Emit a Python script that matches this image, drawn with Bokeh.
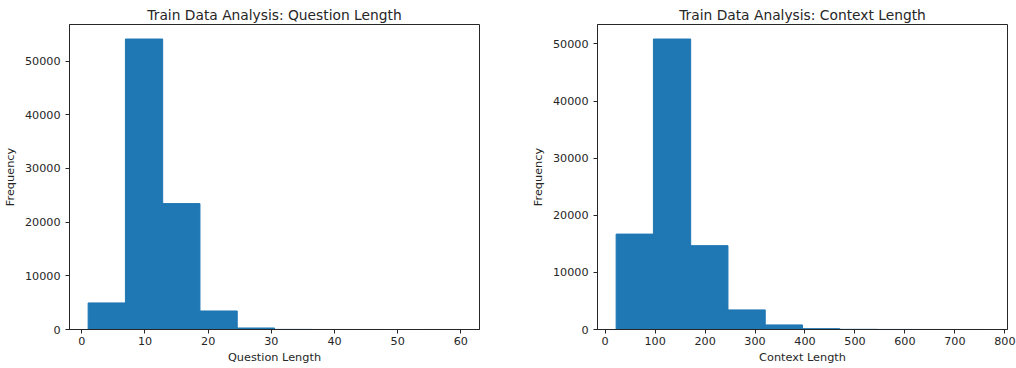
from bokeh.plotting import figure
from bokeh.layouts import row
from bokeh.models import Range1d, FixedTicker, NumeralTickFormatter
from bokeh.embed import file_html
from bokeh.resources import INLINE

# ---- data ----
q_edges = [1.0, 6.9, 12.8, 18.7, 24.6, 30.5, 36.4, 42.3, 48.2, 54.1, 60.0]
q_counts = [4950, 54100, 23450, 3450, 280, 20, 5, 2, 0, 1]

c_edges = [22.0, 96.6, 171.2, 245.8, 320.4, 395.0, 469.6, 544.2, 618.8, 693.4, 768.0]
c_counts = [16700, 50850, 14680, 3430, 800, 150, 30, 10, 3, 2]

q_xticks = [0, 10, 20, 30, 40, 50, 60]
c_xticks = [0, 100, 200, 300, 400, 500, 600, 700, 800]
y_ticks = [0, 10000, 20000, 30000, 40000, 50000]

BAR = "#1f77b4"
INK = "#262626"
FONT = "DejaVu Sans"


def hist_fig(title, xlabel, edges, counts, xticks, width, bl, br):
    lo, hi = edges[0], edges[-1]
    pad = 0.05 * (hi - lo)
    p = figure(
        width=width, height=368, output_backend="svg", toolbar_location=None,
        x_range=Range1d(lo - pad, hi + pad),
        y_range=Range1d(0, max(counts) * 1.05),
        title=title,
    )
    p.min_border_left = bl
    p.min_border_right = br
    p.min_border_top = 24
    p.min_border_bottom = 39
    p.quad(left=edges[:-1], right=edges[1:], bottom=0, top=counts,
           fill_color=BAR, line_color=BAR, line_width=1)
    p.grid.visible = False
    p.outline_line_color = INK
    p.outline_line_width = 1
    p.background_fill_color = "white"
    p.border_fill_color = "white"

    p.title.align = "center"
    p.title.text_font = FONT
    p.title.text_font_size = "13.8px"
    p.title.text_font_style = "normal"
    p.title.text_color = INK
    p.title.standoff = 4
    p.title.offset = 0

    p.xaxis.ticker = FixedTicker(ticks=xticks)
    p.yaxis.ticker = FixedTicker(ticks=y_ticks)
    p.yaxis.formatter = NumeralTickFormatter(format="0")
    p.xaxis.axis_label = xlabel
    p.yaxis.axis_label = "Frequency"
    for ax in (p.xaxis, p.yaxis):
        ax.axis_line_color = INK
        ax.major_tick_line_color = INK
        ax.minor_tick_line_color = None
        ax.major_tick_in = 0
        ax.major_tick_out = 4
        ax.major_label_text_font = FONT
        ax.major_label_text_font_size = "11.2px"
        ax.major_label_text_color = INK
        ax.axis_label_text_font = FONT
        ax.axis_label_text_font_size = "11.3px"
        ax.axis_label_text_font_style = "normal"
        ax.axis_label_text_color = INK
    p.xaxis.major_label_standoff = 3
    p.xaxis.axis_label_standoff = 3
    p.yaxis.major_label_standoff = 5
    p.yaxis.axis_label_standoff = 5
    return p


p1 = hist_fig("Train Data Analysis: Question Length", "Question Length",
              q_edges, q_counts, q_xticks, 508, 69, 29)
p2 = hist_fig("Train Data Analysis: Context Length", "Context Length",
              c_edges, c_counts, c_xticks, 508, 89, 9)

layout = row(p1, p2)
open("out.html", "w").write(file_html(layout, INLINE))
